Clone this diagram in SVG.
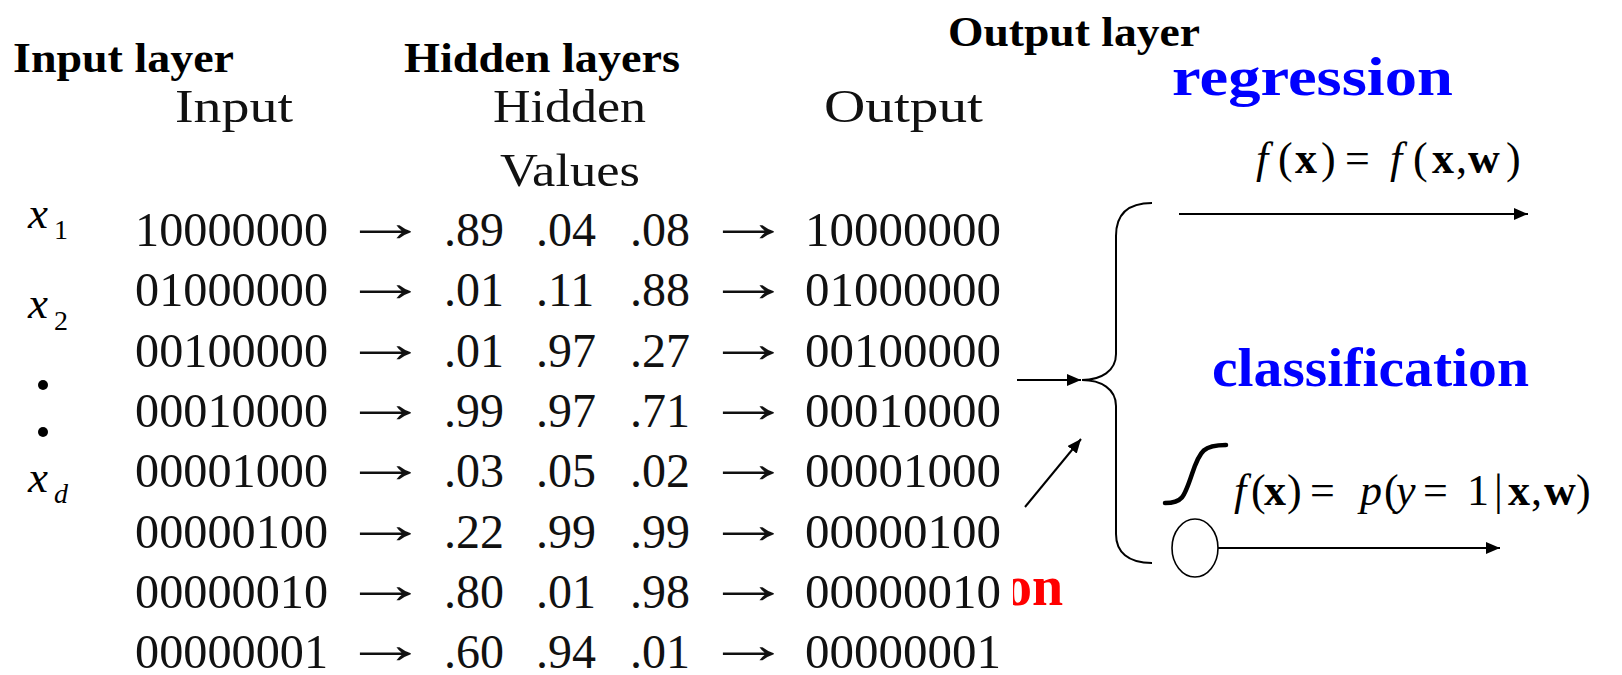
<svg xmlns="http://www.w3.org/2000/svg" width="1622" height="675" viewBox="0 0 1622 675">
  <style>
    .hdr { font-family: "Liberation Serif", "Times New Roman", serif; font-weight: bold; font-size: 43px; fill: #000; }
    .cm { font-family: "Liberation Serif", "Times New Roman", serif; font-size: 46px; fill: #111; }
    .tab { font-family: "Liberation Serif", "Times New Roman", serif; font-size: 48px; fill: #111; }
    .arr { font-size: 56px; }
    .blue { font-family: "Liberation Serif", "Times New Roman", serif; font-weight: bold; font-size: 55px; fill: #0000ff; }
    .red { font-family: "Liberation Serif", "Times New Roman", serif; font-weight: bold; font-size: 56px; fill: #ff0000; }
    .math { font-family: "Liberation Serif", "Times New Roman", serif; fill: #000; }
    .it { font-style: italic; }
    .bf { font-weight: bold; }
    .var { font-family: "Liberation Serif", "Times New Roman", serif; font-style: italic; font-size: 45px; fill: #000; }
    .sub { font-family: "Liberation Serif", "Times New Roman", serif; font-size: 28px; fill: #000; }
    .line { fill: none; stroke: #000; stroke-width: 2; }
  </style>
  <defs>
    <marker id="head" viewBox="0 0 14 12" refX="14" refY="6" markerWidth="14" markerHeight="12" markerUnits="userSpaceOnUse" orient="auto">
      <path d="M0,0 L14,6 L0,12 Z" fill="#000"/>
    </marker>
    <clipPath id="clipRed">
      <rect x="1013" y="540" width="120" height="90"/>
    </clipPath>
  </defs>

  <rect width="1622" height="675" fill="#fff"/>

  <!-- layer titles -->
  <g id="title-input"><text class="hdr" x="13" y="72" textLength="221" lengthAdjust="spacingAndGlyphs">Input layer</text></g>
  <g id="title-hidden"><text class="hdr" x="404" y="72" textLength="276" lengthAdjust="spacingAndGlyphs">Hidden layers</text></g>
  <g id="title-output"><text class="hdr" x="948" y="46" textLength="252" lengthAdjust="spacingAndGlyphs">Output layer</text></g>

  <!-- table column headings -->
  <g id="col-heads">
    <text class="cm" x="175" y="122" textLength="118" lengthAdjust="spacingAndGlyphs">Input</text>
    <text class="cm" x="493" y="122" textLength="153" lengthAdjust="spacingAndGlyphs">Hidden</text>
    <text class="cm" x="500" y="186" textLength="140" lengthAdjust="spacingAndGlyphs">Values</text>
    <text class="cm" x="824" y="122" textLength="159" lengthAdjust="spacingAndGlyphs">Output</text>
  </g>

  <!-- input variables -->
  <g id="input-vars">
    <text class="var" x="28" y="228">x</text><text class="sub" x="54" y="239">1</text>
    <text class="var" x="28" y="318">x</text><text class="sub" x="54" y="330">2</text>
    <circle cx="43" cy="385" r="5" fill="#000"/>
    <circle cx="43" cy="432" r="5" fill="#000"/>
    <text class="var" x="28" y="492">x</text><text class="sub" x="54" y="503" font-style="italic">d</text>
  </g>

  <!-- encoder table: input, hidden values, output -->
  <g id="table" class="tab">
    <text x="135" y="246" textLength="193" lengthAdjust="spacingAndGlyphs">10000000</text>
    <text x="135" y="306" textLength="193" lengthAdjust="spacingAndGlyphs">01000000</text>
    <text x="135" y="367" textLength="193" lengthAdjust="spacingAndGlyphs">00100000</text>
    <text x="135" y="427" textLength="193" lengthAdjust="spacingAndGlyphs">00010000</text>
    <text x="135" y="487" textLength="193" lengthAdjust="spacingAndGlyphs">00001000</text>
    <text x="135" y="548" textLength="193" lengthAdjust="spacingAndGlyphs">00000100</text>
    <text x="135" y="608" textLength="193" lengthAdjust="spacingAndGlyphs">00000010</text>
    <text x="135" y="668" textLength="193" lengthAdjust="spacingAndGlyphs">00000001</text>

    <g class="arr">
      <text x="342" y="241" textLength="86" lengthAdjust="spacingAndGlyphs">→</text>
      <text x="342" y="301" textLength="86" lengthAdjust="spacingAndGlyphs">→</text>
      <text x="342" y="362" textLength="86" lengthAdjust="spacingAndGlyphs">→</text>
      <text x="342" y="422" textLength="86" lengthAdjust="spacingAndGlyphs">→</text>
      <text x="342" y="482" textLength="86" lengthAdjust="spacingAndGlyphs">→</text>
      <text x="342" y="543" textLength="86" lengthAdjust="spacingAndGlyphs">→</text>
      <text x="342" y="603" textLength="86" lengthAdjust="spacingAndGlyphs">→</text>
      <text x="342" y="663" textLength="86" lengthAdjust="spacingAndGlyphs">→</text>
    </g>

    <text x="444" y="246">.89</text><text x="536" y="246">.04</text><text x="630" y="246">.08</text>
    <text x="444" y="306">.01</text><text x="536" y="306">.11</text><text x="630" y="306">.88</text>
    <text x="444" y="367">.01</text><text x="536" y="367">.97</text><text x="630" y="367">.27</text>
    <text x="444" y="427">.99</text><text x="536" y="427">.97</text><text x="630" y="427">.71</text>
    <text x="444" y="487">.03</text><text x="536" y="487">.05</text><text x="630" y="487">.02</text>
    <text x="444" y="548">.22</text><text x="536" y="548">.99</text><text x="630" y="548">.99</text>
    <text x="444" y="608">.80</text><text x="536" y="608">.01</text><text x="630" y="608">.98</text>
    <text x="444" y="668">.60</text><text x="536" y="668">.94</text><text x="630" y="668">.01</text>

    <g class="arr">
      <text x="705" y="241" textLength="86" lengthAdjust="spacingAndGlyphs">→</text>
      <text x="705" y="301" textLength="86" lengthAdjust="spacingAndGlyphs">→</text>
      <text x="705" y="362" textLength="86" lengthAdjust="spacingAndGlyphs">→</text>
      <text x="705" y="422" textLength="86" lengthAdjust="spacingAndGlyphs">→</text>
      <text x="705" y="482" textLength="86" lengthAdjust="spacingAndGlyphs">→</text>
      <text x="705" y="543" textLength="86" lengthAdjust="spacingAndGlyphs">→</text>
      <text x="705" y="603" textLength="86" lengthAdjust="spacingAndGlyphs">→</text>
      <text x="705" y="663" textLength="86" lengthAdjust="spacingAndGlyphs">→</text>
    </g>

    <text x="805" y="246" textLength="196" lengthAdjust="spacingAndGlyphs">10000000</text>
    <text x="805" y="306" textLength="196" lengthAdjust="spacingAndGlyphs">01000000</text>
    <text x="805" y="367" textLength="196" lengthAdjust="spacingAndGlyphs">00100000</text>
    <text x="805" y="427" textLength="196" lengthAdjust="spacingAndGlyphs">00010000</text>
    <text x="805" y="487" textLength="196" lengthAdjust="spacingAndGlyphs">00001000</text>
    <text x="805" y="548" textLength="196" lengthAdjust="spacingAndGlyphs">00000100</text>
    <text x="805" y="608" textLength="196" lengthAdjust="spacingAndGlyphs">00000010</text>
    <text x="805" y="668" textLength="196" lengthAdjust="spacingAndGlyphs">00000001</text>
  </g>

  <!-- partly hidden red label -->
  <g id="red-label" clip-path="url(#clipRed)">
    <text class="red" x="1004" y="605">on</text>
  </g>

  <!-- task labels -->
  <g id="regression">
    <text class="blue" x="1172" y="95" textLength="281" lengthAdjust="spacingAndGlyphs">regression</text>
    <text class="math" font-size="44" y="173">
      <tspan class="it" x="1256">f</tspan><tspan x="1278">(</tspan><tspan class="bf" x="1295">x</tspan><tspan x="1321">)</tspan><tspan x="1345">=</tspan><tspan class="it" x="1390">f</tspan><tspan x="1413">(</tspan><tspan class="bf" x="1432">x</tspan><tspan x="1456">,</tspan><tspan class="bf" x="1468">w</tspan><tspan x="1506">)</tspan>
    </text>
  </g>

  <g id="classification">
    <text class="blue" x="1212" y="386" textLength="317" lengthAdjust="spacingAndGlyphs">classification</text>
    <path d="M1165,503 C1182,503 1184,498 1192,474 C1200,450 1204,445 1226,445" fill="none" stroke="#000" stroke-width="4.5" stroke-linecap="round"/>
    <text class="math" font-size="44" y="505">
      <tspan class="it" x="1234">f</tspan><tspan x="1251">(</tspan><tspan class="bf" x="1264">x</tspan><tspan x="1287">)</tspan><tspan x="1310">=</tspan><tspan class="it" x="1360">p</tspan><tspan x="1384">(</tspan><tspan class="it" x="1396">y</tspan><tspan x="1423">=</tspan><tspan x="1467">1</tspan><tspan x="1494">|</tspan><tspan class="bf" x="1508">x</tspan><tspan x="1531">,</tspan><tspan class="bf" x="1544">w</tspan><tspan x="1576">)</tspan>
    </text>
    <ellipse cx="1195" cy="548" rx="23" ry="29" fill="#fff" stroke="#000" stroke-width="1.6"/>
  </g>

  <!-- brace and connectors -->
  <g id="connectors">
    <path class="line" d="M1152,203 C1128,203 1116,214 1116,236 L1116,354 C1116,371 1101,380 1082,380 C1101,380 1116,389 1116,406 L1116,534 C1116,552 1128,563 1152,563"/>
    <line x1="1017" y1="380" x2="1081" y2="380" stroke="#000" stroke-width="2" marker-end="url(#head)"/>
    <line x1="1025" y1="507" x2="1081" y2="439" stroke="#000" stroke-width="2" marker-end="url(#head)"/>
    <line x1="1179" y1="214" x2="1528" y2="214" stroke="#000" stroke-width="2" marker-end="url(#head)"/>
    <line x1="1218" y1="548" x2="1500" y2="548" stroke="#000" stroke-width="2" marker-end="url(#head)"/>
  </g>
</svg>
